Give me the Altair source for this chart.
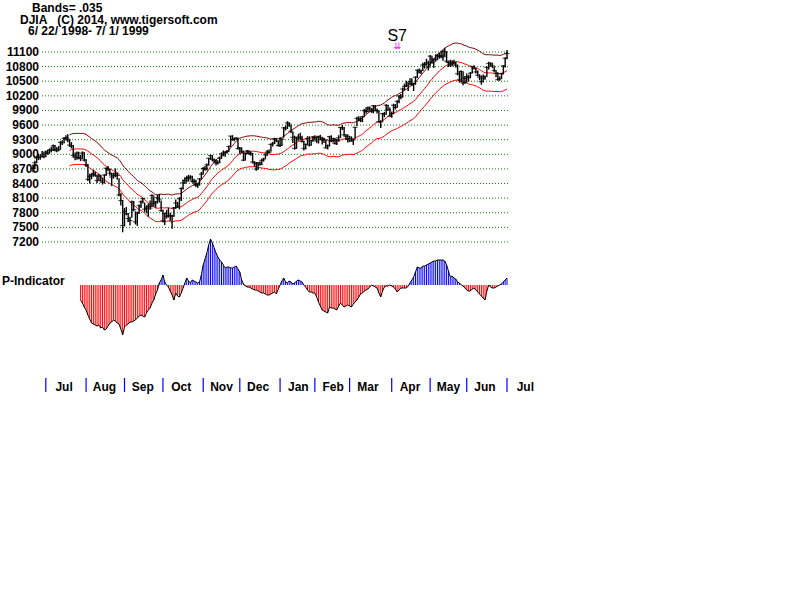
import altair as alt
import pandas as pd

# ---------------- data (DJIA daily, 6/22/1998 - 7/1/1999) ----------------
close_jun98 = [8712, 8828, 8923, 8935, 8945, 8997, 8952]
high_jun98 = [8790, 8870, 8960, 9010, 8990, 9070, 9040]
low_jun98 = [8630, 8700, 8820, 8880, 8890, 8940, 8920]

close_jul98 = [9048, 9026, 9086, 9085, 9174, 9089, 9106, 9096, 9245, 9235, 9328, 9338, 9296, 9190, 9170, 8977, 8938, 9028, 8934, 8915, 9026, 8883]
high_jul98 = [9080, 9090, 9120, 9150, 9200, 9190, 9150, 9170, 9270, 9290, 9350, 9390, 9410, 9320, 9250, 9190, 9020, 9060, 9050, 8990, 9060, 9040]
low_jul98 = [8950, 8990, 9010, 9040, 9070, 9060, 9040, 9060, 9110, 9190, 9230, 9290, 9250, 9150, 9120, 8940, 8880, 8890, 8900, 8860, 8920, 8850]

close_aug98 = [8786, 8487, 8546, 8577, 8599, 8574, 8462, 8552, 8459, 8425, 8574, 8714, 8693, 8611, 8533, 8566, 8602, 8566, 8166, 8052, 7539]
high_aug98 = [8900, 8800, 8600, 8620, 8680, 8640, 8570, 8600, 8580, 8520, 8590, 8730, 8760, 8700, 8620, 8620, 8710, 8620, 8510, 8200, 8060]
low_aug98 = [8740, 8450, 8400, 8490, 8540, 8540, 8410, 8470, 8440, 8380, 8400, 8560, 8650, 8560, 8350, 8500, 8530, 8480, 8140, 7950, 7400]

close_sep98 = [7827, 7782, 7682, 7640, 8020, 7865, 7615, 7795, 7945, 8025, 8089, 7873, 7895, 7933, 7897, 8154, 7994, 8028, 8108, 8080, 7843]
high_sep98 = [7900, 7920, 7790, 7720, 8050, 8040, 7830, 7820, 7970, 8050, 8110, 8010, 7950, 7990, 8050, 8180, 8140, 8040, 8170, 8190, 8050]
low_sep98 = [7520, 7750, 7610, 7540, 7700, 7830, 7560, 7530, 7780, 7900, 7990, 7820, 7790, 7720, 7860, 7920, 7930, 7900, 7990, 8010, 7820]

close_oct98 = [7632, 7785, 7727, 7742, 7741, 7732, 7899, 8001, 7938, 8089, 8299, 8416, 8466, 8505, 8519, 8534, 8452, 8432, 8367, 8371, 8496, 8592]
high_oct98 = [7860, 7800, 7860, 7900, 7800, 7760, 7920, 8070, 8020, 8120, 8320, 8480, 8530, 8560, 8580, 8570, 8560, 8500, 8480, 8410, 8510, 8640]
low_oct98 = [7600, 7550, 7680, 7700, 7630, 7470, 7720, 7880, 7900, 7870, 8040, 8280, 8390, 8420, 8440, 8480, 8420, 8380, 8330, 8310, 8360, 8480]

close_nov98 = [8707, 8707, 8783, 8915, 8975, 8898, 8863, 8823, 8829, 8919, 9011, 8987, 9042, 9057, 9160, 9374, 9301, 9314, 9334, 9117]
high_nov98 = [8740, 8760, 8810, 8930, 8990, 8980, 8910, 8900, 8880, 8940, 9040, 9080, 9060, 9090, 9180, 9380, 9390, 9340, 9350, 9340]
low_nov98 = [8590, 8660, 8670, 8770, 8890, 8860, 8830, 8770, 8790, 8820, 8910, 8960, 8950, 9010, 9060, 9160, 9280, 9270, 9300, 9100]

close_dec98 = [9134, 9065, 8879, 9017, 9070, 9027, 9009, 8841, 8821, 8695, 8823, 8790, 8876, 8903, 8988, 9045, 9044, 9203, 9227, 9320, 9274, 9181]
high_dec98 = [9150, 9130, 9070, 9030, 9090, 9080, 9060, 9030, 8860, 8840, 8840, 8850, 8900, 8930, 9020, 9090, 9100, 9210, 9260, 9340, 9330, 9290]
low_dec98 = [9010, 9020, 8860, 8880, 9000, 8990, 8970, 8830, 8750, 8660, 8690, 8770, 8780, 8850, 8910, 8970, 9020, 9060, 9160, 9210, 9250, 9160]

close_jan99 = [9184, 9311, 9544, 9537, 9643, 9619, 9474, 9349, 9120, 9340, 9355, 9335, 9264, 9120, 9203, 9324, 9188, 9282, 9359]
high_jan99 = [9350, 9330, 9560, 9590, 9680, 9660, 9600, 9460, 9380, 9350, 9420, 9440, 9380, 9280, 9220, 9370, 9370, 9300, 9370]
low_jan99 = [9150, 9170, 9340, 9490, 9520, 9560, 9430, 9230, 9100, 9120, 9280, 9300, 9240, 9080, 9100, 9200, 9160, 9180, 9260]

close_feb99 = [9345, 9274, 9367, 9304, 9304, 9291, 9133, 9178, 9363, 9274, 9324, 9222, 9298, 9340, 9552, 9544, 9399, 9366, 9307]
high_feb99 = [9390, 9360, 9380, 9400, 9360, 9340, 9300, 9200, 9380, 9390, 9340, 9330, 9320, 9390, 9560, 9600, 9560, 9410, 9410]
low_feb99 = [9290, 9230, 9220, 9290, 9200, 9230, 9120, 9100, 9160, 9250, 9240, 9200, 9190, 9260, 9340, 9500, 9380, 9300, 9240]

close_mar99 = [9325, 9275, 9297, 9555, 9736, 9727, 9693, 9772, 9898, 9876, 9958, 9930, 9879, 9997, 9903, 9890, 9672, 9666, 9836, 9822, 10007, 9913, 9786]
high_mar99 = [9380, 9370, 9320, 9560, 9770, 9780, 9760, 9790, 9930, 9950, 9980, 9980, 9950, 10010, 10010, 9940, 9900, 9700, 9850, 9870, 10030, 10010, 9960]
low_mar99 = [9250, 9260, 9190, 9320, 9580, 9680, 9660, 9660, 9780, 9840, 9870, 9890, 9850, 9840, 9890, 9840, 9650, 9540, 9670, 9760, 9820, 9900, 9770]

close_apr99 = [9832, 10007, 9963, 10085, 10197, 10173, 10340, 10395, 10412, 10463, 10493, 10440, 10448, 10581, 10727, 10689, 10719, 10832, 10846, 10878, 10789]
high_apr99 = [9880, 10040, 10030, 10110, 10210, 10240, 10370, 10450, 10510, 10470, 10560, 10560, 10470, 10600, 10740, 10760, 10740, 10880, 10890, 10960, 10920]
low_apr99 = [9750, 9830, 9920, 9960, 10050, 10130, 10170, 10310, 10380, 10300, 10420, 10400, 10300, 10430, 10570, 10660, 10650, 10720, 10760, 10820, 10720]

close_may99 = [11014, 10886, 10955, 10946, 11031, 11008, 11027, 11000, 11108, 10913, 10883, 10836, 10888, 10867, 10829, 10655, 10531, 10702, 10466, 10560]
high_may99 = [11040, 11010, 10960, 11050, 11060, 11080, 11120, 11140, 11180, 11110, 10920, 10940, 10930, 10940, 10900, 10840, 10710, 10720, 10690, 10600]
low_may99 = [10800, 10860, 10770, 10900, 10930, 10960, 10970, 10920, 11000, 10880, 10790, 10790, 10800, 10840, 10780, 10620, 10470, 10480, 10420, 10450]

close_jun99 = [10597, 10577, 10664, 10799, 10765, 10691, 10622, 10584, 10490, 10564, 10595, 10784, 10863, 10855, 10815, 10721, 10666, 10535, 10552, 10655, 10815, 10971]
high_jun99 = [10660, 10630, 10690, 10810, 10830, 10770, 10720, 10640, 10620, 10640, 10620, 10800, 10900, 10890, 10880, 10810, 10720, 10680, 10600, 10670, 10830, 10990]
low_jun99 = [10470, 10490, 10560, 10670, 10740, 10660, 10600, 10520, 10430, 10480, 10530, 10600, 10740, 10800, 10770, 10690, 10580, 10510, 10510, 10550, 10640, 10780]

close_jul99 = [11066]
high_jul99 = [11140]
low_jul99 = [10950]

# P-Indicator (starts at trading day 26)
p_start = 26
p_values = [
    -15, -18, -22, -25, -30, -34, -38, -39, -40, -41, -40, -43, -42, -45, -44, -41, -38, -37, -35, -36,
    -38, -39, -44, -50, -42, -40, -39, -37, -37, -36, -35, -33, -31, -30, -31, -32, -28, -25, -23, -18,
    -15, -9, -5, 2, 5, 10, 3, 0, -2, -6, -10, -15, -8, -11, -12, -8, -3, 2, 7, 4,
    2, 5, 4, 3, 2, 3, 10, 20, 26, 32, 40, 46, 42, 37, 32, 28, 25, 23, 20, 17,
    18, 18, 17, 17, 18, 19, 16, 13, 5, 1, -1, -2, -2, -3, -4, -5, -5, -6, -7, -8,
    -8, -9, -10, -10, -9, -8, -7, -9, -4, 0, 4, 7, 3, 2, 4, 3, 1, 2, 4, 5,
    4, 3, 0, -2, -5, -7, -7, -8, -8, -12, -17, -21, -25, -26, -27, -28, -22, -23, -23, -24,
    -25, -21, -18, -20, -22, -21, -20, -21, -22, -19, -17, -15, -12, -9, -8, -6, -5, -4, -2, 0,
    -1, -2, -3, -8, -12, -6, -2, -1, -1, 0, -1, -2, -4, -7, -5, -3, -3, -3, -3, -1,
    2, 5, 8, 13, 18, 17, 17, 19, 19, 20, 21, 22, 23, 24, 24, 25, 25, 25, 25, 24,
    20, 14, 8, 9, 7, 6, 3, 2, 0, -1, -3, -5, -6, -6, -4, -3, -5, -7, -9, -11,
    -13, -15, -6, 0, -2, -3, -3, -2, -1, 0, 1, 3, 5, 7,
]

month_labels = ["Jul", "Aug", "Sep", "Oct", "Nov", "Dec", "Jan", "Feb", "Mar", "Apr", "May", "Jun", "Jul"]
price_ticks = [11100, 10800, 10500, 10200, 9900, 9600, 9300, 9000, 8700, 8400, 8100, 7800, 7500, 7200]
band_pct = 0.035
ma_window = 21
signal_idx = 199
signal_label = "S7"

# ---------------- assemble ----------------
months_close = [close_jun98, close_jul98, close_aug98, close_sep98, close_oct98, close_nov98, close_dec98,
                close_jan99, close_feb99, close_mar99, close_apr99, close_may99, close_jun99, close_jul99]
months_high = [high_jun98, high_jul98, high_aug98, high_sep98, high_oct98, high_nov98, high_dec98,
               high_jan99, high_feb99, high_mar99, high_apr99, high_may99, high_jun99, high_jul99]
months_low = [low_jun98, low_jul98, low_aug98, low_sep98, low_oct98, low_nov98, low_dec98,
              low_jan99, low_feb99, low_mar99, low_apr99, low_may99, low_jun99, low_jul99]

closes = sum(months_close, [])
highs = sum(months_high, [])
lows = sum(months_low, [])
n = len(closes)

month_start_idx = []
acc = 0
for m in months_close[:-1]:
    acc += len(m)
    month_start_idx.append(acc)

price_df = pd.DataFrame({"idx": list(range(n)), "close": closes, "high": highs, "low": lows})
p_df = pd.DataFrame({"idx": [p_start + i for i in range(len(p_values))], "p": p_values})
p_df["sign"] = ["pos" if v > 0 else "neg" for v in p_values]
month_df = pd.DataFrame({"idx": month_start_idx, "label": month_labels})
tick_df = pd.DataFrame({"v": price_ticks, "label": [str(v) for v in price_ticks]})

FONT = "Liberation Sans"
NBSP = "\u00a0"

x_scale = alt.Scale(domain=[0, n - 1], range=[33, 507], nice=False, zero=False)
price_scale = alt.Scale(domain=[7200, 11100], range=[242, 52], nice=False, zero=False)
p_scale = alt.Scale(domain=[-60, 60], range=[345, 225], nice=False, zero=False)

X = alt.X("idx:Q", scale=x_scale, axis=None)

grid = alt.Chart(tick_df).mark_rule(color="#008000", strokeDash=[1, 2], strokeWidth=1).encode(
    y=alt.Y("v:Q", scale=price_scale, axis=None),
    x=alt.value(42), x2=alt.value(508),
)
ylabels = alt.Chart(tick_df).mark_text(align="right", baseline="middle", font=FONT, fontSize=12,
                                       fontWeight="bold", color="black").encode(
    y=alt.Y("v:Q", scale=price_scale, axis=None),
    x=alt.value(39), text="label:N",
)

hl = alt.Chart(price_df).mark_rule(color="black", strokeWidth=1.4).encode(
    x=X,
    y=alt.Y("low:Q", scale=price_scale, axis=None),
    y2="high:Q",
)
cl = alt.Chart(price_df).mark_tick(color="black", orient="horizontal", size=5, thickness=1.2).encode(
    x=X,
    y=alt.Y("close:Q", scale=price_scale, axis=None),
)

band_base = alt.Chart(price_df).transform_window(
    ma="mean(close)", cnt="count(close)", frame=[-(ma_window - 1), 0], sort=[alt.SortField("idx")]
).transform_filter(f"datum.cnt >= {ma_window}").transform_calculate(
    upper=f"datum.ma * (1 + {band_pct})", lower=f"datum.ma * (1 - {band_pct})"
)
upper = band_base.mark_line(color="#800000", strokeWidth=1).encode(
    x=X, y=alt.Y("upper:Q", scale=price_scale, axis=None))
mid = band_base.mark_line(color="#ff0000", strokeWidth=1).encode(
    x=X, y=alt.Y("ma:Q", scale=price_scale, axis=None))
lower = band_base.mark_line(color="#ff0000", strokeWidth=1).encode(
    x=X, y=alt.Y("lower:Q", scale=price_scale, axis=None))

p_bars = alt.Chart(p_df).mark_rule(strokeWidth=1).encode(
    x=X,
    y=alt.Y("p:Q", scale=p_scale, axis=None),
    y2=alt.datum(0),
    color=alt.Color("sign:N", scale=alt.Scale(domain=["neg", "pos"], range=["#ff0000", "#0000ff"]), legend=None),
)
p_line = alt.Chart(p_df).mark_line(color="black", strokeWidth=1).encode(
    x=X, y=alt.Y("p:Q", scale=p_scale, axis=None))

mticks = alt.Chart(month_df).mark_rule(color="#0000ff", strokeWidth=1.2).encode(
    x=X, y=alt.value(378), y2=alt.value(392))
mlabels = alt.Chart(month_df).transform_calculate(lx="datum.idx + 10").mark_text(
    align="center", baseline="middle", font=FONT, fontSize=12, fontWeight="bold", color="black").encode(
    x=alt.X("lx:Q", scale=x_scale, axis=None), y=alt.value(387), text="label:N")


def label(txt, x, y, size=12, weight="bold", color="black", align="left"):
    return alt.Chart(pd.DataFrame({"t": [txt]})).mark_text(
        align=align, baseline="middle", font=FONT, fontSize=size, fontWeight=weight, color=color
    ).encode(text="t:N", x=alt.value(x), y=alt.value(y))


sig_df = pd.DataFrame({"idx": [signal_idx], "t": [signal_label], "a": ["\u21ca"]})
sig_text = alt.Chart(sig_df).mark_text(align="center", baseline="middle", font=FONT, fontSize=16,
                                       color="black").encode(x=X, y=alt.value(36), text="t:N")
sig_arrow = alt.Chart(sig_df).mark_text(align="center", baseline="middle", font="DejaVu Sans", fontSize=9,
                                        color="#ff00ff").encode(x=X, y=alt.value(46), text="a:N")

chart = alt.layer(
    grid, ylabels, upper, mid, lower, hl, cl, p_bars, p_line, mticks, mlabels,
    label("Bands= .035", 32, 8),
    label("DJIA" + NBSP * 3 + "(C) 2014, www.tigersoft.com", 20, 20),
    label("6/ 22/ 1998- 7/ 1/ 1999", 28, 31),
    label("P-Indicator", 2, 281),
    sig_text, sig_arrow,
).resolve_scale(y="independent").properties(
    width=800, height=600, padding=0, autosize=alt.AutoSizeParams(type="none"), background="white"
).configure_view(stroke=None)

chart.save("out.html", embed_options={"renderer": "svg", "actions": False})
